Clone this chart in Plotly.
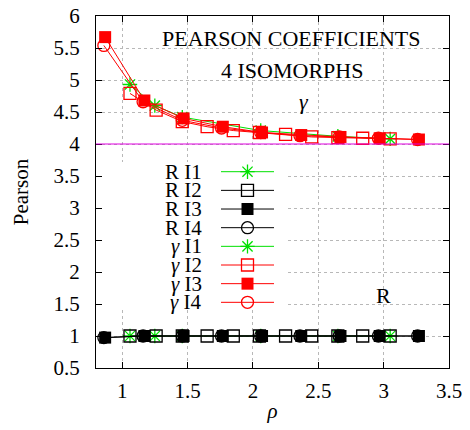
import plotly.graph_objects as go

# ---------------- data ----------------
rho_I1 = [1.06, 1.25, 1.46, 2.06, 2.65, 3.05]
gamma_I1 = [4.93, 4.60, 4.42, 4.21, 4.12, 4.08]
R_I1 = [1.00, 1.00, 1.00, 1.00, 1.00, 1.00]

rho_I2 = [1.06, 1.26, 1.46, 1.65, 1.85, 2.05, 2.25, 2.45, 2.65, 2.84, 3.05]
gamma_I2 = [4.79, 4.53, 4.35, 4.27, 4.21, 4.18, 4.15, 4.11, 4.10, 4.09, 4.08]
R_I2 = [1.00, 1.00, 1.00, 1.00, 1.00, 1.00, 1.00, 1.00, 1.00, 1.00, 1.00]

rho_I3 = [0.87, 1.17, 1.47, 1.77, 2.07, 2.37, 2.67, 2.97, 3.27]
gamma_I3 = [5.67, 4.68, 4.40, 4.27, 4.18, 4.14, 4.11, 4.09, 4.07]
R_I3 = [0.975, 1.00, 1.00, 1.00, 1.00, 1.00, 1.00, 1.00, 1.00]

rho_I4 = [0.86, 1.16, 1.46, 1.76, 2.06, 2.36, 2.66, 2.96, 3.26]
gamma_I4 = [5.54, 4.66, 4.37, 4.25, 4.18, 4.13, 4.11, 4.09, 4.07]
R_I4 = [0.975, 1.00, 1.00, 1.00, 1.00, 1.00, 1.00, 1.00, 1.00]

x_ticks = [1, 1.5, 2, 2.5, 3, 3.5]
x_tick_labels = ["1", "1.5", "2", "2.5", "3", "3.5"]
y_ticks = [0.5, 1, 1.5, 2, 2.5, 3, 3.5, 4, 4.5, 5, 5.5, 6]
y_tick_labels = ["0.5", "1", "1.5", "2", "2.5", "3", "3.5", "4", "4.5", "5", "5.5", "6"]
ref_level = 4

# ---------------- styles ----------------
GREEN = "#00e000"
RED = "#ff0000"
BLACK = "#000000"
FONT = "Liberation Serif"

series = [
    ("R I1", rho_I1, R_I1, GREEN, "asterisk-open"),
    ("R I2", rho_I2, R_I2, BLACK, "square-open"),
    ("R I3", rho_I3, R_I3, BLACK, "square"),
    ("R I4", rho_I4, R_I4, BLACK, "circle-open"),
    ("γ I1", rho_I1, gamma_I1, GREEN, "asterisk-open"),
    ("γ I2", rho_I2, gamma_I2, RED, "square-open"),
    ("γ I3", rho_I3, gamma_I3, RED, "square"),
    ("γ I4", rho_I4, gamma_I4, RED, "circle-open"),
]


def marker_for(color, symbol):
    if symbol.endswith("open"):
        return dict(symbol=symbol, size=12, color=color,
                    line=dict(color=color, width=1.3))
    return dict(symbol=symbol, size=12, color=color, line=dict(width=0))


fig = go.Figure()

for name, xs, ys, col, sym in series:
    fig.add_trace(go.Scatter(
        x=xs, y=ys, mode="lines+markers", name=name,
        line=dict(color=col, width=1),
        marker=marker_for(col, sym),
        cliponaxis=False, showlegend=False,
    ))

# ---------------- layout geometry ----------------
# page body has an 8px default margin, so the figure origin sits at (8, 8)
OFF = 8
W, H = 462, 422
L, R, T, B = 88, 21, 8, 62
PW, PH = W - L - R, H - T - B
PLOT_L = OFF + L
PLOT_B = OFF + H - B


def px_x(px):
    return (px - PLOT_L) / PW


def px_y(py):
    return (PLOT_B - py) / PH


# manual gnuplot-style key (text left, sample right), on an overlay axis in [0,1]
bx0, bx1, by0, by1 = px_x(97), px_x(285), px_y(308), px_y(162)
fig.add_trace(go.Scatter(
    x=[bx0, bx1, bx1, bx0, bx0], y=[by0, by0, by1, by1, by0],
    mode="lines", fill="toself", fillcolor="white", line=dict(width=0),
    xaxis="x2", yaxis="y2", hoverinfo="skip", showlegend=False,
))

annotations = []
row0, step = 171.7, 18.66
for i, (name, xs, ys, col, sym) in enumerate(series):
    py = px_y(row0 + i * step)
    fig.add_trace(go.Scatter(
        x=[px_x(221), px_x(274)], y=[py, py], mode="lines",
        line=dict(color=col, width=1), xaxis="x2", yaxis="y2",
        hoverinfo="skip", showlegend=False,
    ))
    fig.add_trace(go.Scatter(
        x=[px_x(247.5)], y=[py], mode="markers",
        marker=marker_for(col, sym), xaxis="x2", yaxis="y2",
        cliponaxis=False, showlegend=False, hoverinfo="skip",
    ))
    label = name.replace("γ", "<i>γ</i>")
    annotations.append(dict(xref="paper", yref="paper",
                            x=px_x(204), y=py, text=label,
                            showarrow=False, xanchor="right", yanchor="middle",
                            font=dict(family=FONT, size=21, color="black")))

for text, cx, cy in [("PEARSON COEFFICIENTS", 291.5, 38.5),
                     ("4 ISOMORPHS", 291.5, 70.5),
                     ("<i>γ</i>", 303.5, 101),
                     ("R", 383.5, 295.5)]:
    annotations.append(dict(xref="paper", yref="paper", x=px_x(cx), y=px_y(cy),
                            text=text, showarrow=False, xanchor="center",
                            yanchor="middle",
                            font=dict(family=FONT, size=22, color="black")))

shapes = [
    dict(type="line", xref="paper", yref="y", x0=0, x1=1,
         y0=ref_level, y1=ref_level, line=dict(color="#e000e0", width=1),
         layer="above"),
]

axis_common = dict(
    showline=True, linecolor="black", linewidth=1, mirror="ticks",
    ticks="inside", ticklen=6, tickwidth=1, tickcolor="black",
    showgrid=True, gridcolor="#b8b8b8", griddash="dot", gridwidth=1,
    zeroline=False, automargin=False, ticklabeloverflow="allow",
    tickfont=dict(family=FONT, size=21, color="black"),
)

fig.update_layout(
    width=W, height=H,
    margin=dict(l=L, r=R, t=T, b=B),
    plot_bgcolor="white", paper_bgcolor="white",
    showlegend=False,
    font=dict(family=FONT, size=21, color="black"),
    xaxis=dict(range=[0.8, 3.5], tickvals=x_ticks, ticktext=x_tick_labels,
               ticklabelstandoff=4,
               title=dict(text="<i>ρ</i>", standoff=1,
                          font=dict(family=FONT, size=21)),
               **axis_common),
    yaxis=dict(range=[0.5, 6], tickvals=y_ticks, ticktext=y_tick_labels,
               ticklabelstandoff=11,
               title=dict(text="Pearson", standoff=19,
                          font=dict(family=FONT, size=21)),
               **axis_common),
    xaxis2=dict(overlaying="x", range=[0, 1], visible=False, fixedrange=True),
    yaxis2=dict(overlaying="y", range=[0, 1], visible=False, fixedrange=True),
    shapes=shapes,
    annotations=annotations,
)

fig.write_html("out.html")
